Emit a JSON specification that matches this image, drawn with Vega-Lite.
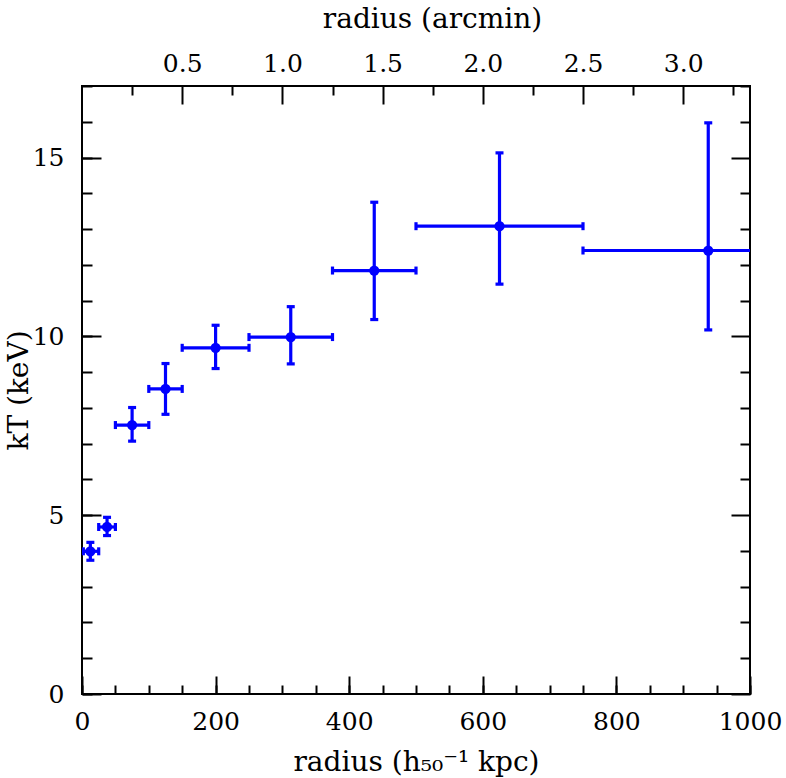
{
  "$schema": "https://vega.github.io/schema/vega-lite/v6.json",
  "width": 668,
  "height": 608,
  "autosize": {"type": "none"},
  "padding": {"left": 82, "top": 86, "right": 36, "bottom": 84},
  "background": "white",
  "config": {
    "view": {"stroke": "black", "strokeWidth": 2},
    "axis": {
      "domain": false,
      "grid": false,
      "labelFont": "DejaVu Serif",
      "labelFontSize": 25,
      "labelColor": "black",
      "titleFont": "DejaVu Serif",
      "titleFontSize": 28,
      "titleFontWeight": "normal",
      "titleColor": "black",
      "tickColor": "black",
      "tickWidth": 2,
      "labelFlush": false,
      "labelOverlap": false,
      "labelBound": false
    }
  },
  "data": {
    "values": [
      {"r": 12.5, "rlo": 2, "rhi": 25, "T": 3.99, "Tlo": 3.74, "Thi": 4.24},
      {"r": 37.5, "rlo": 25, "rhi": 50, "T": 4.67, "Tlo": 4.43, "Thi": 4.94},
      {"r": 75, "rlo": 50, "rhi": 100, "T": 7.52, "Tlo": 7.07, "Thi": 8.01},
      {"r": 125, "rlo": 100, "rhi": 150, "T": 8.53, "Tlo": 7.82, "Thi": 9.24},
      {"r": 200, "rlo": 150, "rhi": 250, "T": 9.68, "Tlo": 9.1, "Thi": 10.31},
      {"r": 312.5, "rlo": 250, "rhi": 375, "T": 9.98, "Tlo": 9.23, "Thi": 10.83},
      {"r": 437.5, "rlo": 375, "rhi": 500, "T": 11.84, "Tlo": 10.47, "Thi": 13.75},
      {"r": 625, "rlo": 500, "rhi": 750, "T": 13.08, "Tlo": 11.46, "Thi": 15.13},
      {"r": 937.5, "rlo": 750, "rhi": 1125, "T": 12.4, "Tlo": 10.18, "Thi": 15.97}
    ]
  },
  "resolve": {"axis": {"x": "independent", "y": "independent"}},
  "layer": [
    {
      "mark": {"type": "rule", "color": "#0000ff", "strokeWidth": 3.2, "clip": true},
      "encoding": {
        "x": {
          "field": "rlo", "type": "quantitative",
          "scale": {"domain": [0, 1000], "nice": false, "zero": false},
          "axis": {"orient": "bottom", "values": [0, 200, 400, 600, 800, 1000], "format": "d", "tickSize": -18, "labelPadding": 33, "title": "radius (h₅₀⁻¹ kpc)", "titleX": 334, "titleY": 76, "titleAlign": "center", "titleBaseline": "alphabetic"}
        },
        "x2": {"field": "rhi"},
        "y": {
          "field": "T", "type": "quantitative",
          "scale": {"domain": [0, 17], "nice": false, "zero": false},
          "axis": {"orient": "left", "values": [0, 5, 10, 15], "tickSize": -19, "labelPadding": 37, "title": "kT (keV)", "titleX": -55, "titleY": 304, "titleAlign": "center", "titleBaseline": "alphabetic", "titleAngle": -90}
        }
      }
    },
    {
      "mark": {"type": "rule", "color": "#0000ff", "strokeWidth": 3.2, "clip": true},
      "encoding": {
        "x": {
          "field": "r", "type": "quantitative",
          "axis": {"orient": "bottom", "values": [0, 50, 100, 150, 200, 250, 300, 350, 400, 450, 500, 550, 600, 650, 700, 750, 800, 850, 900, 950, 1000], "tickSize": -9, "labels": false, "title": null}
        },
        "y": {
          "field": "Tlo", "type": "quantitative",
          "axis": {"orient": "left", "values": [0, 1, 2, 3, 4, 5, 6, 7, 8, 9, 10, 11, 12, 13, 14, 15, 16, 17], "tickSize": -10, "labels": false, "title": null}
        },
        "y2": {"field": "Thi"}
      }
    },
    {
      "mark": {"type": "tick", "orient": "vertical", "color": "#0000ff", "thickness": 3.2, "size": 8, "opacity": 1, "clip": true},
      "encoding": {
        "x": {
          "field": "rlo", "type": "quantitative",
          "axis": {"orient": "top", "values": [150, 300, 450, 600, 750, 900], "labelExpr": "format(datum.value / 300, '.1f')", "tickSize": -18, "labelPadding": 28, "title": "radius (arcmin)", "titleX": 350, "titleY": -59, "titleAlign": "center", "titleBaseline": "alphabetic"}
        },
        "y": {
          "field": "T", "type": "quantitative",
          "axis": {"orient": "right", "values": [0, 5, 10, 15], "tickSize": -19, "labels": false, "title": null}
        }
      }
    },
    {
      "mark": {"type": "tick", "orient": "vertical", "color": "#0000ff", "thickness": 3.2, "size": 8, "opacity": 1, "clip": true},
      "encoding": {
        "x": {
          "field": "rhi", "type": "quantitative",
          "axis": {"orient": "top", "values": [75, 225, 375, 525, 675, 825, 975], "tickSize": -9, "labels": false, "title": null}
        },
        "y": {
          "field": "T", "type": "quantitative",
          "axis": {"orient": "right", "values": [1, 2, 3, 4, 6, 7, 8, 9, 11, 12, 13, 14, 16, 17], "tickSize": -10, "labels": false, "title": null}
        }
      }
    },
    {
      "mark": {"type": "tick", "orient": "horizontal", "color": "#0000ff", "thickness": 3.2, "size": 8, "opacity": 1, "clip": true},
      "encoding": {
        "x": {"field": "r", "type": "quantitative", "axis": null},
        "y": {"field": "Tlo", "type": "quantitative", "axis": null}
      }
    },
    {
      "mark": {"type": "tick", "orient": "horizontal", "color": "#0000ff", "thickness": 3.2, "size": 8, "opacity": 1, "clip": true},
      "encoding": {
        "x": {"field": "r", "type": "quantitative", "axis": null},
        "y": {"field": "Thi", "type": "quantitative", "axis": null}
      }
    },
    {
      "mark": {"type": "point", "filled": true, "color": "#0000ff", "size": 105, "opacity": 1, "clip": true},
      "encoding": {
        "x": {"field": "r", "type": "quantitative", "axis": null},
        "y": {"field": "T", "type": "quantitative", "axis": null}
      }
    }
  ]
}
